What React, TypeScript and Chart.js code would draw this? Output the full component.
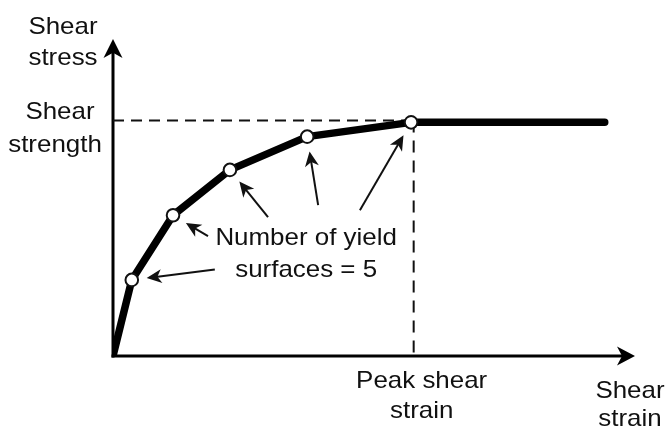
import React, { useEffect, useRef } from "react";
import { Chart, registerables } from "chart.js";

Chart.register(...registerables);

// ---- Data (in arbitrary strain / stress units) ----
const curveStrain = [0, 3.6, 11.5, 22.4, 37.2, 57.1, 94.2];
const curveStress = [0, 24.0, 44.4, 58.7, 69.2, 73.7, 73.7];
const yieldPointFlags = [false, true, true, true, true, true, false];

const peakShearStrain = 57.6;
const shearStrength = 74.3;

const arrowTailStrain = [19.5, 18.2, 29.7, 39.3, 47.3];
const arrowTailStress = [27.3, 37.8, 43.8, 47.6, 46.0];

const annotationLines = ["Number of yield", "surfaces = 5"];
const annotationStrain = 37.0;
const annotationStress = [34.9, 24.8];

const yAxisTitle = ["Shear", "stress"];
const xAxisTitle = ["Shear", "strain"];
const strengthLabel = ["Shear", "strength"];
const peakLabel = ["Peak shear", "strain"];

const FONT = '24px "Liberation Sans", Arial, Helvetica, sans-serif';
const TEXT_COLOR = "#111";
const STRETCH = 1.08;

function drawText(ctx: CanvasRenderingContext2D, text: string, cx: number, baseline: number) {
  ctx.save();
  ctx.translate(cx, baseline);
  ctx.scale(STRETCH, 1);
  ctx.font = FONT;
  ctx.fillStyle = TEXT_COLOR;
  ctx.textAlign = "center";
  ctx.textBaseline = "alphabetic";
  ctx.fillText(text, 0, 0);
  ctx.restore();
}

function arrowHead(ctx: CanvasRenderingContext2D, tipX: number, tipY: number, angle: number, len: number, half: number) {
  ctx.save();
  ctx.translate(tipX, tipY);
  ctx.rotate(angle);
  ctx.beginPath();
  ctx.moveTo(0, 0);
  ctx.lineTo(-len, -half);
  ctx.lineTo(-len * 0.72, 0);
  ctx.lineTo(-len, half);
  ctx.closePath();
  ctx.fill();
  ctx.restore();
}

const decorPlugin = {
  id: "decor",
  beforeDatasetsDraw(chart: any) {
    const ctx: CanvasRenderingContext2D = chart.ctx;
    const xs = chart.scales.x;
    const ys = chart.scales.y;
    const ox = xs.getPixelForValue(0);
    const oy = ys.getPixelForValue(0);
    const xEnd = xs.getPixelForValue(xs.max);
    const yEnd = ys.getPixelForValue(ys.max);
    ctx.save();
    ctx.strokeStyle = "#000";
    ctx.fillStyle = "#000";
    ctx.lineWidth = 3;
    ctx.lineCap = "butt";
    // y axis
    ctx.beginPath();
    ctx.moveTo(ox, oy + 1.5);
    ctx.lineTo(ox, yEnd + 12);
    ctx.stroke();
    // x axis
    ctx.beginPath();
    ctx.moveTo(ox - 1.5, oy);
    ctx.lineTo(xEnd - 12, oy);
    ctx.stroke();
    arrowHead(ctx, ox, yEnd, -Math.PI / 2, 19, 9.5);
    arrowHead(ctx, xEnd, oy, 0, 18, 9.5);
    ctx.restore();
  },
  afterDatasetsDraw(chart: any) {
    const ctx: CanvasRenderingContext2D = chart.ctx;
    const xs = chart.scales.x;
    const ys = chart.scales.y;
    const ox = xs.getPixelForValue(0);
    const oy = ys.getPixelForValue(0);
    const xEnd = xs.getPixelForValue(xs.max);
    const yEnd = ys.getPixelForValue(ys.max);

    // annotation arrows
    ctx.save();
    ctx.strokeStyle = "#111";
    ctx.fillStyle = "#111";
    ctx.lineWidth = 2;
    const yieldIdx = curveStrain.map((_, i) => i).filter((i) => yieldPointFlags[i]);
    yieldIdx.forEach((pi, k) => {
      const px = xs.getPixelForValue(curveStrain[pi]);
      const py = ys.getPixelForValue(curveStress[pi]);
      const tx = xs.getPixelForValue(arrowTailStrain[k]);
      const ty = ys.getPixelForValue(arrowTailStress[k]);
      const dx = tx - px;
      const dy = ty - py;
      const d = Math.hypot(dx, dy);
      const tipX = px + (dx / d) * 15;
      const tipY = py + (dy / d) * 15;
      const ang = Math.atan2(tipY - ty, tipX - tx);
      ctx.beginPath();
      ctx.moveTo(tx, ty);
      ctx.lineTo(tipX - Math.cos(ang) * 9, tipY - Math.sin(ang) * 9);
      ctx.stroke();
      arrowHead(ctx, tipX, tipY, ang, 15, 7);
    });
    ctx.restore();

    // annotation text
    const ax = xs.getPixelForValue(annotationStrain);
    annotationLines.forEach((t, i) => drawText(ctx, t, ax, ys.getPixelForValue(annotationStress[i])));

    // axis titles
    drawText(ctx, yAxisTitle[0], ox - 50, yEnd - 5);
    drawText(ctx, yAxisTitle[1], ox - 50, yEnd + 26);
    const sy = ys.getPixelForValue(shearStrength);
    drawText(ctx, strengthLabel[0], ox - 53, sy - 1);
    drawText(ctx, strengthLabel[1], ox - 58, sy + 32);
    const px = xs.getPixelForValue(peakShearStrain);
    drawText(ctx, peakLabel[0], px + 8, oy + 32);
    drawText(ctx, peakLabel[1], px + 8, oy + 62);
    drawText(ctx, xAxisTitle[0], xEnd - 5, oy + 42);
    drawText(ctx, xAxisTitle[1], xEnd - 5, oy + 70);
  },
};

export default function App() {
  const canvasRef = useRef<HTMLCanvasElement | null>(null);

  useEffect(() => {
    if (!canvasRef.current) return;
    const curve = curveStrain.map((x, i) => ({ x, y: curveStress[i] }));
    const chart = new Chart(canvasRef.current, {
      type: "scatter",
      data: {
        datasets: [
          {
            data: curve,
            showLine: true,
            borderColor: "#000",
            borderWidth: 7.5,
            borderCapStyle: "round",
            borderJoinStyle: "round",
            pointRadius: yieldPointFlags.map((f) => (f ? 6.3 : 0)),
            pointHoverRadius: 0,
            pointBackgroundColor: "#fff",
            pointBorderColor: "#111",
            pointBorderWidth: 2,
          } as any,
          {
            data: [
              { x: 0, y: shearStrength },
              { x: peakShearStrain, y: shearStrength },
            ],
            showLine: true,
            borderColor: "#111",
            borderWidth: 2,
            borderDash: [11, 7],
            pointRadius: 0,
          } as any,
          {
            data: [
              { x: peakShearStrain, y: shearStrength },
              { x: peakShearStrain, y: 0 },
            ],
            showLine: true,
            borderColor: "#111",
            borderWidth: 2,
            borderDash: [12, 8],
            pointRadius: 0,
          } as any,
        ],
      },
      options: {
        animation: false,
        responsive: false,
        maintainAspectRatio: false,
        layout: { padding: { left: 113, right: 34, top: 39, bottom: 71 } },
        scales: {
          x: { type: "linear", min: 0, max: 100, display: false },
          y: { type: "linear", min: 0, max: 100, display: false },
        },
        plugins: {
          legend: { display: false },
          tooltip: { enabled: false },
          title: { display: false },
        },
        events: [],
      },
      plugins: [decorPlugin],
    });
    return () => chart.destroy();
  }, []);

  return (
    <div style={{ position: "fixed", left: 0, top: 0, width: 669, height: 427, background: "#fff" }}>
      <canvas ref={canvasRef} width={669} height={427} style={{ display: "block" }} />
    </div>
  );
}
